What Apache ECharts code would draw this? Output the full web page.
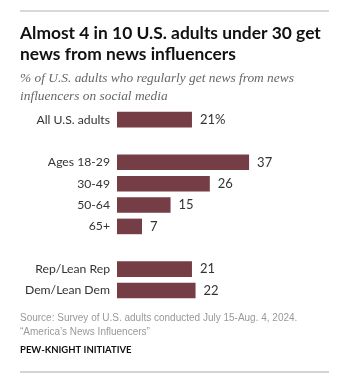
<!DOCTYPE html>
<html>
<head>
    <meta charset="utf-8">
    <title>News influencers</title>
    <style>
        body { margin: 0; background: #fff; }
        #chart { width: 350px; height: 385px; }
    </style>
</head>
<body>
<div id="chart"></div>
<script src="https://cdn.jsdelivr.net/npm/echarts@6/dist/echarts.min.js"></script>
<script>
    // data
    var categories = ['All U.S. adults', '', 'Ages 18-29', '30-49', '50-64', '65+', '', 'Rep/Lean Rep', 'Dem/Lean Dem'];
    var values = [21, null, 37, 26, 15, 7, null, 21, 22];
    var valueLabels = ['21%', '', '37', '26', '15', '7', '', '21', '22'];

    var chart = echarts.init(document.getElementById('chart'));

    var sans = '"Liberation Sans", Arial, sans-serif';
    var lato = 'Lato, "Liberation Sans", sans-serif';

    chart.setOption({
        animation: false,
        title: [{
            text: 'Almost 4 in 10 U.S. adults under 30 get\nnews from news influencers',
            left: 20,
            top: 23,
            padding: 0,
            textStyle: {fontFamily: lato, fontSize: 17.4, fontWeight: 'bold', color: '#111', lineHeight: 21}
        }, {
            text: '% of U.S. adults who regularly get news from news\ninfluencers on social media',
            left: 20,
            top: 69,
            padding: 0,
            textStyle: {fontFamily: '"Liberation Serif", serif', fontStyle: 'italic', fontWeight: 'normal', fontSize: 13.4, color: '#666', lineHeight: 18}
        }, {
            text: 'Source: Survey of U.S. adults conducted July 15-Aug. 4, 2024.\n\u201cAmerica\u2019s News Influencers\u201d',
            left: 20,
            top: 311,
            padding: 0,
            textStyle: {fontFamily: sans, fontWeight: 'normal', fontSize: 10, color: '#999', lineHeight: 14}
        }, {
            text: 'PEW-KNIGHT INITIATIVE',
            left: 20,
            top: 345,
            padding: 0,
            textStyle: {fontFamily: lato, fontWeight: 'bold', fontSize: 9.5, color: '#111'}
        }],
        graphic: [{
            type: 'line',
            shape: {x1: 20, y1: 11, x2: 329, y2: 11},
            style: {stroke: '#ccc', lineWidth: 1.5}
        }, {
            type: 'line',
            shape: {x1: 20, y1: 372, x2: 329, y2: 372},
            style: {stroke: '#aaa', lineWidth: 1}
        }],
        grid: {left: 117, right: 54.5, top: 108.9, bottom: 385 - 301.2, containLabel: false},
        xAxis: {
            type: 'value',
            min: 0,
            max: 50,
            show: false
        },
        yAxis: {
            type: 'category',
            inverse: true,
            data: categories,
            axisLine: {show: false},
            axisTick: {show: false},
            axisLabel: {fontFamily: lato, fontSize: 12.2, color: '#333', margin: 7}
        },
        series: [{
            type: 'bar',
            barWidth: '73%',
            data: values,
            itemStyle: {color: '#753d46'},
            label: {
                show: true,
                position: 'right',
                distance: 8,
                fontFamily: lato,
                fontSize: 13,
                color: '#333',
                formatter: function (p) {
                    return valueLabels[p.dataIndex];
                }
            }
        }]
    });
</script>
</body>
</html>
